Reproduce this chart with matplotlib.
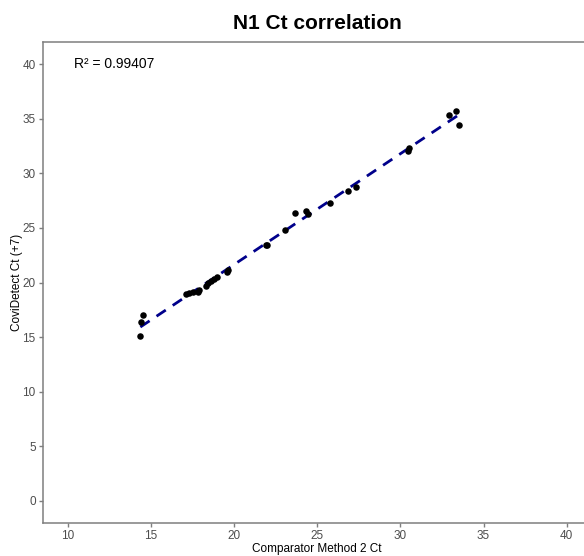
import numpy as np
import matplotlib
matplotlib.use("Agg")
import matplotlib.pyplot as plt

plt.rcParams['font.family'] = ['Liberation Sans', 'DejaVu Sans']

# Comparator Method 2 Ct vs CoviDetect Ct (+7)
comparator_ct = [14.37, 14.40, 14.55, 17.12, 17.30, 17.52, 17.82, 17.92, 18.33, 18.42,
                 18.63, 18.80, 19.00, 19.60, 19.62, 21.90, 22.00, 23.08, 23.68, 24.35,
                 24.45, 25.75, 26.86, 27.36, 30.45, 30.50, 32.92, 33.33, 33.50]
covidetect_ct = [15.10, 16.40, 17.00, 18.96, 19.00, 19.17, 19.11, 19.32, 19.72, 19.94,
                 20.15, 20.30, 20.50, 20.97, 21.15, 23.40, 23.44, 24.82, 26.40, 26.56,
                 26.31, 27.26, 28.42, 28.78, 32.05, 32.30, 35.38, 35.68, 34.40]
r2_label = "R² = 0.99407"
ticks = [0, 5, 10, 15, 20, 25, 30, 35, 40]

x = np.array(comparator_ct)
y = np.array(covidetect_ct)
slope, intercept = np.polyfit(x, y, 1)  # linear fit for the dashed line
xfit = np.array([x.min(), x.max()])

fig = plt.figure(figsize=(5.84, 5.56), dpi=100)
ax = fig.add_axes([0.0731, 0.0597, 0.94, 0.8644])

ax.scatter(x, y, s=22, c='black', zorder=3, linewidths=0)
ax.plot(xfit, slope * xfit + intercept, color='#00008B', linestyle=(0, (4, 3)), linewidth=2, zorder=2)

ax.text(12.8, 40, r2_label, ha='center', va='center', fontsize=10, color='black')

ax.set_xlim(8.5, 41.5)
ax.set_ylim(-2, 42)
ax.set_xticks([t for t in ticks if t >= 10])
ax.set_yticks(ticks)

for sp in ax.spines.values():
    sp.set_color('#7f7f7f')
    sp.set_linewidth(1.1)
ax.tick_params(colors='#7f7f7f', labelcolor='#4d4d4d', labelsize=8.5, length=3, width=1, pad=2)

ax.set_xlabel('Comparator Method 2 Ct', fontsize=8.5, labelpad=1)
ax.set_ylabel('CoviDetect Ct (+7)', fontsize=8.5)
ax.yaxis.set_label_coords(-0.036, 0.5)
fig.suptitle('N1 Ct correlation', x=0.543, y=0.975, fontsize=15, fontweight='bold')

fig.savefig('out.png', dpi=100)
